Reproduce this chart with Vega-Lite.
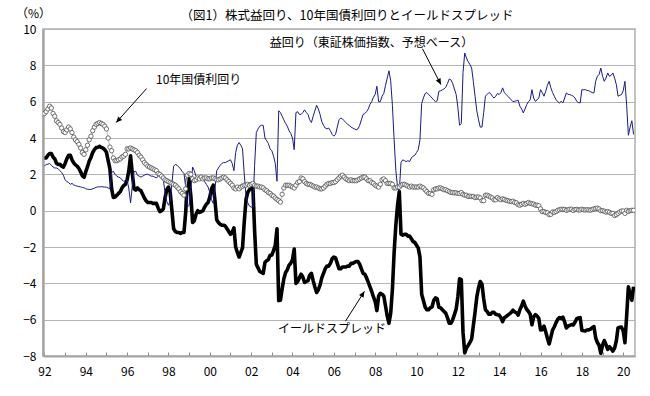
{
"$schema": "https://vega.github.io/schema/vega-lite/v6.json",
"width": 592, "height": 327,
"autosize": {"type": "none"},
"padding": {"left": 43, "top": 29, "right": 15, "bottom": 40},
"background": "white",
"title": {"text": "（図1）株式益回り、10年国債利回りとイールドスプレッド", "font": "Noto Sans CJK JP", "fontSize": 12.5, "fontWeight": "normal", "color": "black", "anchor": "middle", "offset": 0, "dx": 8, "dy": 15},
"config": {
  "view": {"stroke": "#b0b0b0", "strokeWidth": 1.5},
  "font": "Noto Sans CJK JP",
  "axis": {"labelFont": "Noto Sans CJK JP", "labelFontSize": 12, "labelColor": "black", "titleFont": "Noto Sans CJK JP", "titleFontWeight": "normal", "titleColor": "black"}
},
"resolve": {"axis": {"x": "independent", "y": "independent"}},
"datasets": {
"m": [
{"t":1992,"e":2.45,"j":5.35,"s":2.9},{"t":1992.083,"e":2.55,"j":5.45,"s":2.9},{"t":1992.167,"e":2.55,"j":5.6,"s":3.05},{"t":1992.25,"e":2.6,"j":5.75,"s":3.15},{"t":1992.333,"e":2.5,"j":5.65,"s":3.15},{"t":1992.417,"e":2.4,"j":5.35,"s":2.95},{"t":1992.5,"e":2.35,"j":5.2,"s":2.85},{"t":1992.583,"e":2.35,"j":4.95,"s":2.6},{"t":1992.667,"e":2.3,"j":4.85,"s":2.55},{"t":1992.75,"e":2.2,"j":4.75,"s":2.55},{"t":1992.833,"e":2.1,"j":4.55,"s":2.45},{"t":1992.917,"e":1.95,"j":4.35,"s":2.4},
{"t":1993,"e":1.7,"j":4.3,"s":2.6},{"t":1993.083,"e":1.6,"j":4.45,"s":2.85},{"t":1993.167,"e":1.55,"j":4.6,"s":3.05},{"t":1993.25,"e":1.45,"j":4.5,"s":3.05},{"t":1993.333,"e":1.5,"j":4.3,"s":2.8},{"t":1993.417,"e":1.42,"j":4.05,"s":2.63},{"t":1993.5,"e":1.38,"j":3.9,"s":2.52},{"t":1993.583,"e":1.35,"j":3.8,"s":2.45},{"t":1993.667,"e":1.33,"j":3.65,"s":2.32},{"t":1993.75,"e":1.31,"j":3.45,"s":2.14},{"t":1993.833,"e":1.28,"j":3.2,"s":1.92},{"t":1993.917,"e":1.26,"j":3.1,"s":1.84},
{"t":1994,"e":1.2,"j":3.35,"s":2.15},{"t":1994.083,"e":1.18,"j":3.6,"s":2.42},{"t":1994.167,"e":1.17,"j":3.9,"s":2.73},{"t":1994.25,"e":1.17,"j":4.1,"s":2.93},{"t":1994.333,"e":1.2,"j":4.4,"s":3.2},{"t":1994.417,"e":1.24,"j":4.6,"s":3.36},{"t":1994.5,"e":1.28,"j":4.75,"s":3.47},{"t":1994.583,"e":1.31,"j":4.8,"s":3.49},{"t":1994.667,"e":1.31,"j":4.85,"s":3.54},{"t":1994.75,"e":1.32,"j":4.8,"s":3.48},{"t":1994.833,"e":1.31,"j":4.75,"s":3.44},{"t":1994.917,"e":1.3,"j":4.65,"s":3.35},
{"t":1995,"e":1.29,"j":4.5,"s":3.21},{"t":1995.083,"e":1.25,"j":4.0,"s":2.75},{"t":1995.167,"e":1.2,"j":3.5,"s":2.3},{"t":1995.25,"e":2.1,"j":3.3,"s":1.2},{"t":1995.333,"e":2.17,"j":2.9,"s":0.73},{"t":1995.417,"e":2.0,"j":2.75,"s":0.75},{"t":1995.5,"e":1.9,"j":2.75,"s":0.85},{"t":1995.583,"e":1.85,"j":2.8,"s":0.95},{"t":1995.667,"e":1.81,"j":2.85,"s":1.04},{"t":1995.75,"e":1.7,"j":2.95,"s":1.25},{"t":1995.833,"e":1.62,"j":3.0,"s":1.38},{"t":1995.917,"e":1.65,"j":3.1,"s":1.45},
{"t":1996,"e":1.7,"j":3.4,"s":1.7},{"t":1996.083,"e":1.2,"j":3.4,"s":2.2},{"t":1996.167,"e":0.43,"j":3.45,"s":3.02},{"t":1996.25,"e":1.35,"j":3.4,"s":2.05},{"t":1996.333,"e":2.15,"j":3.35,"s":1.2},{"t":1996.417,"e":2.17,"j":3.3,"s":1.13},{"t":1996.5,"e":1.95,"j":3.2,"s":1.25},{"t":1996.583,"e":1.9,"j":3.05,"s":1.15},{"t":1996.667,"e":1.85,"j":2.95,"s":1.1},{"t":1996.75,"e":1.9,"j":2.8,"s":0.9},{"t":1996.833,"e":1.95,"j":2.65,"s":0.7},{"t":1996.917,"e":2.0,"j":2.55,"s":0.55},
{"t":1997,"e":2.0,"j":2.45,"s":0.45},{"t":1997.083,"e":1.95,"j":2.4,"s":0.45},{"t":1997.167,"e":1.9,"j":2.35,"s":0.45},{"t":1997.25,"e":1.9,"j":2.3,"s":0.4},{"t":1997.333,"e":1.85,"j":2.25,"s":0.4},{"t":1997.417,"e":1.8,"j":2.2,"s":0.4},{"t":1997.5,"e":1.9,"j":2.05,"s":0.15},{"t":1997.583,"e":2.05,"j":2.0,"s":-0.05},{"t":1997.667,"e":1.9,"j":1.9,"s":0.0},{"t":1997.75,"e":1.71,"j":1.8,"s":0.09},{"t":1997.833,"e":1.0,"j":1.7,"s":0.7},{"t":1997.917,"e":0.5,"j":1.65,"s":1.15},
{"t":1998,"e":0.3,"j":1.6,"s":1.3},{"t":1998.083,"e":0.55,"j":1.55,"s":1.0},{"t":1998.167,"e":1.5,"j":1.5,"s":0.0},{"t":1998.25,"e":2.45,"j":1.45,"s":-1.0},{"t":1998.333,"e":2.55,"j":1.4,"s":-1.15},{"t":1998.417,"e":2.5,"j":1.3,"s":-1.2},{"t":1998.5,"e":2.4,"j":1.2,"s":-1.2},{"t":1998.583,"e":2.3,"j":1.05,"s":-1.25},{"t":1998.667,"e":2.15,"j":0.95,"s":-1.2},{"t":1998.75,"e":2.05,"j":0.85,"s":-1.2},{"t":1998.833,"e":1.3,"j":1.2,"s":-0.1},{"t":1998.917,"e":0.2,"j":1.95,"s":1.75},
{"t":1999,"e":0.3,"j":2.05,"s":1.75},{"t":1999.083,"e":1.2,"j":2.0,"s":0.8},{"t":1999.167,"e":2.4,"j":1.75,"s":-0.65},{"t":1999.25,"e":2.2,"j":1.65,"s":-0.55},{"t":1999.333,"e":1.9,"j":1.7,"s":-0.2},{"t":1999.417,"e":1.8,"j":1.8,"s":0.0},{"t":1999.5,"e":1.85,"j":1.75,"s":-0.1},{"t":1999.583,"e":1.9,"j":1.85,"s":-0.05},{"t":1999.667,"e":1.75,"j":1.75,"s":0.0},{"t":1999.75,"e":1.6,"j":1.8,"s":0.2},{"t":1999.833,"e":1.45,"j":1.8,"s":0.35},{"t":1999.917,"e":1.3,"j":1.75,"s":0.45},
{"t":2000,"e":1.0,"j":1.75,"s":0.75},{"t":2000.083,"e":0.6,"j":1.8,"s":1.2},{"t":2000.167,"e":0.4,"j":1.8,"s":1.4},{"t":2000.25,"e":1.2,"j":1.75,"s":0.55},{"t":2000.333,"e":2.2,"j":1.7,"s":-0.5},{"t":2000.417,"e":2.35,"j":1.7,"s":-0.65},{"t":2000.5,"e":2.5,"j":1.75,"s":-0.75},{"t":2000.583,"e":2.6,"j":1.8,"s":-0.8},{"t":2000.667,"e":2.65,"j":1.85,"s":-0.8},{"t":2000.75,"e":2.65,"j":1.8,"s":-0.85},{"t":2000.833,"e":2.7,"j":1.7,"s":-1.0},{"t":2000.917,"e":2.75,"j":1.6,"s":-1.15},
{"t":2001,"e":2.8,"j":1.5,"s":-1.3},{"t":2001.083,"e":2.6,"j":1.4,"s":-1.2},{"t":2001.167,"e":2.2,"j":1.25,"s":-0.95},{"t":2001.25,"e":3.2,"j":1.2,"s":-2.0},{"t":2001.333,"e":3.6,"j":1.3,"s":-2.3},{"t":2001.417,"e":3.75,"j":1.2,"s":-2.55},{"t":2001.5,"e":3.6,"j":1.3,"s":-2.3},{"t":2001.583,"e":3.4,"j":1.35,"s":-2.05},{"t":2001.667,"e":2.0,"j":1.4,"s":-0.6},{"t":2001.75,"e":0.8,"j":1.4,"s":0.6},{"t":2001.833,"e":0.45,"j":1.45,"s":1.0},{"t":2001.917,"e":0.25,"j":1.4,"s":1.15},
{"t":2002,"e":0.2,"j":1.45,"s":1.25},{"t":2002.083,"e":0.16,"j":1.5,"s":1.34},{"t":2002.167,"e":2.5,"j":1.4,"s":-1.1},{"t":2002.25,"e":4.3,"j":1.35,"s":-2.95},{"t":2002.333,"e":4.5,"j":1.35,"s":-3.15},{"t":2002.417,"e":4.65,"j":1.3,"s":-3.35},{"t":2002.5,"e":4.7,"j":1.3,"s":-3.4},{"t":2002.583,"e":4.7,"j":1.25,"s":-3.45},{"t":2002.667,"e":4.0,"j":1.15,"s":-2.85},{"t":2002.75,"e":3.85,"j":1.1,"s":-2.75},{"t":2002.833,"e":3.7,"j":1.0,"s":-2.7},{"t":2002.917,"e":3.4,"j":0.95,"s":-2.45},
{"t":2003,"e":3.3,"j":0.85,"s":-2.45},{"t":2003.083,"e":3.0,"j":0.8,"s":-2.2},{"t":2003.167,"e":2.6,"j":0.7,"s":-1.9},{"t":2003.25,"e":1.62,"j":0.62,"s":-1.0},{"t":2003.333,"e":5.5,"j":0.55,"s":-4.95},{"t":2003.417,"e":5.4,"j":0.47,"s":-4.93},{"t":2003.5,"e":5.2,"j":0.9,"s":-4.3},{"t":2003.583,"e":5.0,"j":1.25,"s":-3.75},{"t":2003.667,"e":4.8,"j":1.4,"s":-3.4},{"t":2003.75,"e":4.65,"j":1.4,"s":-3.25},{"t":2003.833,"e":4.4,"j":1.4,"s":-3.0},{"t":2003.917,"e":4.25,"j":1.35,"s":-2.9},
{"t":2004,"e":4.0,"j":1.3,"s":-2.7},{"t":2004.083,"e":3.36,"j":1.25,"s":-2.11},{"t":2004.167,"e":5.4,"j":1.4,"s":-4.0},{"t":2004.25,"e":5.45,"j":1.55,"s":-3.9},{"t":2004.333,"e":5.3,"j":1.6,"s":-3.7},{"t":2004.417,"e":5.3,"j":1.8,"s":-3.5},{"t":2004.5,"e":5.4,"j":1.75,"s":-3.65},{"t":2004.583,"e":5.55,"j":1.6,"s":-3.95},{"t":2004.667,"e":5.4,"j":1.5,"s":-3.9},{"t":2004.75,"e":5.3,"j":1.45,"s":-3.85},{"t":2004.833,"e":5.0,"j":1.45,"s":-3.55},{"t":2004.917,"e":4.85,"j":1.4,"s":-3.45},
{"t":2005,"e":5.2,"j":1.35,"s":-3.85},{"t":2005.083,"e":5.5,"j":1.3,"s":-4.2},{"t":2005.167,"e":5.8,"j":1.3,"s":-4.5},{"t":2005.25,"e":5.6,"j":1.25,"s":-4.35},{"t":2005.333,"e":5.3,"j":1.2,"s":-4.1},{"t":2005.417,"e":4.9,"j":1.2,"s":-3.7},{"t":2005.5,"e":4.7,"j":1.25,"s":-3.45},{"t":2005.583,"e":4.55,"j":1.35,"s":-3.2},{"t":2005.667,"e":4.5,"j":1.45,"s":-3.05},{"t":2005.75,"e":4.55,"j":1.5,"s":-3.05},{"t":2005.833,"e":4.4,"j":1.5,"s":-2.9},{"t":2005.917,"e":4.2,"j":1.55,"s":-2.65},
{"t":2006,"e":4.1,"j":1.55,"s":-2.55},{"t":2006.083,"e":4.2,"j":1.6,"s":-2.6},{"t":2006.167,"e":4.6,"j":1.7,"s":-2.9},{"t":2006.25,"e":5.0,"j":1.8,"s":-3.2},{"t":2006.333,"e":5.1,"j":1.9,"s":-3.2},{"t":2006.417,"e":5.05,"j":1.95,"s":-3.1},{"t":2006.5,"e":4.95,"j":1.85,"s":-3.1},{"t":2006.583,"e":4.85,"j":1.75,"s":-3.1},{"t":2006.667,"e":4.75,"j":1.7,"s":-3.05},{"t":2006.75,"e":4.7,"j":1.65,"s":-3.05},{"t":2006.833,"e":4.6,"j":1.7,"s":-2.9},{"t":2006.917,"e":4.55,"j":1.65,"s":-2.9},
{"t":2007,"e":4.5,"j":1.65,"s":-2.85},{"t":2007.083,"e":4.45,"j":1.65,"s":-2.8},{"t":2007.167,"e":4.5,"j":1.7,"s":-2.8},{"t":2007.25,"e":4.7,"j":1.75,"s":-2.95},{"t":2007.333,"e":5.0,"j":1.8,"s":-3.2},{"t":2007.417,"e":5.3,"j":1.85,"s":-3.45},{"t":2007.5,"e":5.35,"j":1.85,"s":-3.5},{"t":2007.583,"e":5.45,"j":1.75,"s":-3.7},{"t":2007.667,"e":5.6,"j":1.65,"s":-3.95},{"t":2007.75,"e":5.85,"j":1.65,"s":-4.2},{"t":2007.833,"e":6.0,"j":1.55,"s":-4.45},{"t":2007.917,"e":6.25,"j":1.5,"s":-4.75},
{"t":2008,"e":6.4,"j":1.4,"s":-5.0},{"t":2008.083,"e":6.85,"j":1.35,"s":-5.5},{"t":2008.167,"e":6.0,"j":1.3,"s":-4.7},{"t":2008.25,"e":6.0,"j":1.45,"s":-4.55},{"t":2008.333,"e":6.3,"j":1.7,"s":-4.6},{"t":2008.417,"e":6.45,"j":1.75,"s":-4.7},{"t":2008.5,"e":6.9,"j":1.65,"s":-5.25},{"t":2008.583,"e":7.3,"j":1.5,"s":-5.8},{"t":2008.667,"e":7.7,"j":1.5,"s":-6.2},{"t":2008.75,"e":7.15,"j":1.5,"s":-5.65},{"t":2008.833,"e":5.8,"j":1.45,"s":-4.35},{"t":2008.917,"e":3.9,"j":1.25,"s":-2.3},
{"t":2009,"e":2.2,"j":1.25,"s":-0.8},{"t":2009.083,"e":1.3,"j":1.3,"s":0.3},{"t":2009.167,"e":1.07,"j":1.3,"s":1.05},{"t":2009.25,"e":2.65,"j":1.4,"s":-1.3},{"t":2009.333,"e":2.8,"j":1.45,"s":-1.35},{"t":2009.417,"e":2.75,"j":1.45,"s":-1.3},{"t":2009.5,"e":2.7,"j":1.4,"s":-1.3},{"t":2009.583,"e":2.75,"j":1.35,"s":-1.4},{"t":2009.667,"e":2.7,"j":1.3,"s":-1.4},{"t":2009.75,"e":2.9,"j":1.35,"s":-1.55},{"t":2009.833,"e":3.0,"j":1.3,"s":-1.7},{"t":2009.917,"e":3.05,"j":1.3,"s":-1.75},
{"t":2010,"e":3.2,"j":1.3,"s":-1.9},{"t":2010.083,"e":3.35,"j":1.3,"s":-2.05},{"t":2010.167,"e":3.9,"j":1.35,"s":-2.55},{"t":2010.25,"e":5.9,"j":1.3,"s":-4.6},{"t":2010.333,"e":6.2,"j":1.25,"s":-4.95},{"t":2010.417,"e":6.45,"j":1.15,"s":-5.3},{"t":2010.5,"e":6.5,"j":1.05,"s":-5.45},{"t":2010.583,"e":6.4,"j":0.95,"s":-5.45},{"t":2010.667,"e":6.3,"j":0.95,"s":-5.35},{"t":2010.75,"e":6.2,"j":0.9,"s":-5.3},{"t":2010.833,"e":6.1,"j":1.15,"s":-4.95},{"t":2010.917,"e":6.0,"j":1.2,"s":-4.8},
{"t":2011,"e":6.05,"j":1.2,"s":-4.85},{"t":2011.083,"e":6.57,"j":1.25,"s":-5.32},{"t":2011.167,"e":6.6,"j":1.25,"s":-5.35},{"t":2011.25,"e":6.65,"j":1.2,"s":-5.45},{"t":2011.333,"e":6.7,"j":1.15,"s":-5.55},{"t":2011.417,"e":6.8,"j":1.15,"s":-5.65},{"t":2011.5,"e":7.0,"j":1.1,"s":-5.9},{"t":2011.583,"e":7.25,"j":1.05,"s":-6.2},{"t":2011.667,"e":7.2,"j":1.0,"s":-6.2},{"t":2011.75,"e":7.0,"j":1.0,"s":-6.0},{"t":2011.833,"e":6.7,"j":0.98,"s":-5.72},{"t":2011.917,"e":6.4,"j":0.98,"s":-5.42},
{"t":2012,"e":5.7,"j":0.95,"s":-4.75},{"t":2012.083,"e":4.7,"j":0.95,"s":-3.75},{"t":2012.167,"e":4.8,"j":1.0,"s":-3.8},{"t":2012.25,"e":7.6,"j":0.9,"s":-6.7},{"t":2012.333,"e":8.68,"j":0.85,"s":-7.83},{"t":2012.417,"e":8.4,"j":0.85,"s":-7.55},{"t":2012.5,"e":8.2,"j":0.78,"s":-7.42},{"t":2012.583,"e":8.05,"j":0.8,"s":-7.25},{"t":2012.667,"e":7.85,"j":0.78,"s":-7.07},{"t":2012.75,"e":7.1,"j":0.78,"s":-6.32},{"t":2012.833,"e":6.3,"j":0.72,"s":-5.58},{"t":2012.917,"e":5.5,"j":0.75,"s":-4.75},
{"t":2013,"e":5.0,"j":0.75,"s":-4.25},{"t":2013.083,"e":4.6,"j":0.7,"s":-3.9},{"t":2013.167,"e":4.6,"j":0.55,"s":-4.05},{"t":2013.25,"e":5.4,"j":0.55,"s":-4.85},{"t":2013.333,"e":6.3,"j":0.85,"s":-5.45},{"t":2013.417,"e":6.4,"j":0.85,"s":-5.55},{"t":2013.5,"e":6.5,"j":0.8,"s":-5.7},{"t":2013.583,"e":6.45,"j":0.75,"s":-5.7},{"t":2013.667,"e":6.3,"j":0.7,"s":-5.6},{"t":2013.75,"e":6.2,"j":0.6,"s":-5.6},{"t":2013.833,"e":6.3,"j":0.6,"s":-5.7},{"t":2013.917,"e":6.45,"j":0.72,"s":-5.73},
{"t":2014,"e":6.4,"j":0.65,"s":-5.75},{"t":2014.083,"e":6.5,"j":0.6,"s":-5.9},{"t":2014.167,"e":6.76,"j":0.65,"s":-6.11},{"t":2014.25,"e":6.5,"j":0.62,"s":-5.88},{"t":2014.333,"e":6.4,"j":0.57,"s":-5.83},{"t":2014.417,"e":6.3,"j":0.55,"s":-5.75},{"t":2014.5,"e":6.2,"j":0.52,"s":-5.68},{"t":2014.583,"e":6.1,"j":0.5,"s":-5.6},{"t":2014.667,"e":6.0,"j":0.52,"s":-5.48},{"t":2014.75,"e":6.02,"j":0.45,"s":-5.57},{"t":2014.833,"e":6.05,"j":0.43,"s":-5.62},{"t":2014.917,"e":6.08,"j":0.33,"s":-5.75},
{"t":2015,"e":5.75,"j":0.3,"s":-5.45},{"t":2015.083,"e":5.6,"j":0.35,"s":-5.25},{"t":2015.167,"e":5.38,"j":0.4,"s":-4.98},{"t":2015.25,"e":5.6,"j":0.35,"s":-5.25},{"t":2015.333,"e":5.84,"j":0.4,"s":-5.44},{"t":2015.417,"e":6.0,"j":0.45,"s":-5.55},{"t":2015.5,"e":6.1,"j":0.4,"s":-5.7},{"t":2015.583,"e":6.66,"j":0.38,"s":-6.28},{"t":2015.667,"e":6.2,"j":0.36,"s":-5.84},{"t":2015.75,"e":6.02,"j":0.3,"s":-5.72},{"t":2015.833,"e":6.1,"j":0.3,"s":-5.8},{"t":2015.917,"e":6.2,"j":0.27,"s":-5.93},
{"t":2016,"e":6.66,"j":0.1,"s":-6.56},{"t":2016.083,"e":6.5,"j":-0.05,"s":-6.55},{"t":2016.167,"e":6.3,"j":-0.05,"s":-6.35},{"t":2016.25,"e":6.57,"j":-0.1,"s":-6.67},{"t":2016.333,"e":6.9,"j":-0.12,"s":-7.02},{"t":2016.417,"e":7.12,"j":-0.22,"s":-7.34},{"t":2016.5,"e":6.76,"j":-0.2,"s":-6.96},{"t":2016.583,"e":6.5,"j":-0.07,"s":-6.57},{"t":2016.667,"e":6.3,"j":-0.09,"s":-6.39},{"t":2016.75,"e":6.11,"j":-0.05,"s":-6.16},{"t":2016.833,"e":6.0,"j":0.02,"s":-5.98},{"t":2016.917,"e":5.93,"j":0.05,"s":-5.88},
{"t":2017,"e":6.02,"j":0.08,"s":-5.94},{"t":2017.083,"e":5.93,"j":0.07,"s":-5.86},{"t":2017.167,"e":6.2,"j":0.07,"s":-6.13},{"t":2017.25,"e":6.48,"j":0.02,"s":-6.46},{"t":2017.333,"e":6.4,"j":0.05,"s":-6.35},{"t":2017.417,"e":6.39,"j":0.08,"s":-6.31},{"t":2017.5,"e":6.35,"j":0.08,"s":-6.27},{"t":2017.583,"e":6.3,"j":0.01,"s":-6.29},{"t":2017.667,"e":6.2,"j":0.06,"s":-6.14},{"t":2017.75,"e":6.02,"j":0.07,"s":-5.95},{"t":2017.833,"e":5.95,"j":0.04,"s":-5.91},{"t":2017.917,"e":5.93,"j":0.04,"s":-5.89},
{"t":2018,"e":6.66,"j":0.08,"s":-6.58},{"t":2018.083,"e":6.66,"j":0.05,"s":-6.61},{"t":2018.167,"e":6.66,"j":0.04,"s":-6.62},{"t":2018.25,"e":6.62,"j":0.05,"s":-6.57},{"t":2018.333,"e":6.6,"j":0.04,"s":-6.56},{"t":2018.417,"e":6.55,"j":0.03,"s":-6.52},{"t":2018.5,"e":6.5,"j":0.06,"s":-6.44},{"t":2018.583,"e":6.48,"j":0.1,"s":-6.38},{"t":2018.667,"e":7.12,"j":0.12,"s":-7.0},{"t":2018.75,"e":7.4,"j":0.14,"s":-7.26},{"t":2018.833,"e":7.5,"j":0.09,"s":-7.41},{"t":2018.917,"e":7.85,"j":0.0,"s":-7.85},
{"t":2019,"e":7.4,"j":0.0,"s":-7.4},{"t":2019.083,"e":7.12,"j":-0.03,"s":-7.15},{"t":2019.167,"e":7.3,"j":-0.08,"s":-7.38},{"t":2019.25,"e":7.58,"j":-0.05,"s":-7.63},{"t":2019.333,"e":7.4,"j":-0.09,"s":-7.49},{"t":2019.417,"e":7.45,"j":-0.15,"s":-7.6},{"t":2019.5,"e":7.58,"j":-0.15,"s":-7.73},{"t":2019.583,"e":7.3,"j":-0.27,"s":-7.57},{"t":2019.667,"e":6.94,"j":-0.22,"s":-7.16},{"t":2019.75,"e":6.3,"j":-0.15,"s":-6.45},{"t":2019.833,"e":6.35,"j":-0.07,"s":-6.42},{"t":2019.917,"e":6.39,"j":-0.02,"s":-6.41},
{"t":2020,"e":6.6,"j":-0.02,"s":-6.62},{"t":2020.083,"e":7.12,"j":-0.15,"s":-7.27},{"t":2020.167,"e":5.8,"j":0.02,"s":-5.78},{"t":2020.25,"e":4.15,"j":-0.04,"s":-4.19},{"t":2020.333,"e":4.6,"j":0.0,"s":-4.6},{"t":2020.417,"e":4.95,"j":0.02,"s":-4.93},{"t":2020.5,"e":4.2,"j":0.02,"s":-4.18}
],
"txt": [
{"t":2007.82,"v":9.25,"label":"益回り（東証株価指数、予想ベース）"},
{"t":1999.46,"v":7.21,"label":"10年国債利回り"},
{"t":2005.91,"v":-6.53,"label":"イールドスプレッド"}
],
"arr": [
{"id":1,"t":2010.29,"v":8.91,"t2":2011.18,"v2":6.94},
{"id":2,"t":1996.94,"v":6.72,"t2":1995.47,"v2":4.85},
{"id":3,"t":2006.56,"v":-6.09,"t2":2007.48,"v2":-4.44}
]
},
"data": {"name": "m"},
"layer": [
{"mark": {"type": "line", "color": "black", "strokeWidth": 3.6, "strokeJoin": "round", "clip": true},
 "encoding": {
  "x": {"field": "t", "type": "quantitative", "scale": {"domain": [1991.93, 2020.57], "nice": false, "zero": false},
        "axis": {"title": null, "orient": "bottom", "values": [1992,1993,1994,1995,1996,1997,1998,1999,2000,2001,2002,2003,2004,2005,2006,2007,2008,2009,2010,2011,2012,2013,2014,2015,2016,2017,2018,2019,2020],
                 "format": "d", "labelExpr": "datum.value % 2 == 0 ? slice(datum.label, 2) : ''", "labelOverlap": false, "labelFlush": false,
                 "tickSize": -4, "tickColor": "#8c8c8c", "labelPadding": 14, "grid": false, "domainColor": "#a6a6a6", "domainWidth": 2}},
  "y": {"field": "s", "type": "quantitative", "scale": {"domain": [-8, 10], "nice": false, "zero": false},
        "axis": {"title": "（%）", "orient": "left", "titleAngle": 0, "titleX": -10, "titleY": -16, "titleAlign": "center", "titleBaseline": "middle", "titleFontSize": 12,
                 "values": [-8,-6,-4,-2,0,2,4,6,8,10], "ticks": false, "labelPadding": 7, "grid": true, "gridColor": "#b4b4b4", "gridWidth": 1, "domainColor": "#a6a6a6", "domainWidth": 2.5}}
 }},
{"mark": {"type": "line", "color": "#1a1a8c", "strokeWidth": 1, "clip": true},
 "encoding": {
  "x": {"field": "t", "type": "quantitative", "scale": {"domain": [1991.93, 2020.57], "nice": false, "zero": false}, "axis": null},
  "y": {"field": "e", "type": "quantitative", "scale": {"domain": [-8, 10], "nice": false, "zero": false}, "axis": null}
 }},
{"mark": {"type": "line", "color": "#c4c4c4", "strokeWidth": 1.3, "clip": true},
 "encoding": {
  "x": {"field": "t", "type": "quantitative", "scale": {"domain": [1991.93, 2020.57], "nice": false, "zero": false}, "axis": null},
  "y": {"field": "j", "type": "quantitative", "scale": {"domain": [-8, 10], "nice": false, "zero": false}, "axis": null}
 }},
{"mark": {"type": "point", "shape": "circle", "filled": true, "fill": "white", "stroke": "#3a3a3a", "strokeWidth": 0.7, "size": 19, "opacity": 1, "clip": true},
 "encoding": {
  "x": {"field": "t", "type": "quantitative", "scale": {"domain": [1991.93, 2020.57], "nice": false, "zero": false}, "axis": null},
  "y": {"field": "j", "type": "quantitative", "scale": {"domain": [-8, 10], "nice": false, "zero": false}, "axis": null}
 }},
{"data": {"name": "txt"},
 "mark": {"type": "text", "font": "Noto Sans CJK JP", "fontSize": 12, "color": "black", "align": "center", "baseline": "middle"},
 "encoding": {
  "x": {"field": "t", "type": "quantitative", "scale": {"domain": [1991.93, 2020.57], "nice": false, "zero": false}, "axis": null},
  "y": {"field": "v", "type": "quantitative", "scale": {"domain": [-8, 10], "nice": false, "zero": false}, "axis": null},
  "text": {"field": "label"}
 }},
{"data": {"name": "arr"},
 "mark": {"type": "rule", "color": "black", "strokeWidth": 1},
 "encoding": {
  "x": {"field": "t", "type": "quantitative", "scale": {"domain": [1991.93, 2020.57], "nice": false, "zero": false}, "axis": null},
  "y": {"field": "v", "type": "quantitative", "scale": {"domain": [-8, 10], "nice": false, "zero": false}, "axis": null},
  "x2": {"field": "t2"},
  "y2": {"field": "v2"}
 }},
{"data": {"name": "arr"}, "transform": [{"filter": "datum.id == 1"}],
 "mark": {"type": "point", "shape": "M0,0L-0.45,1L0.45,1Z", "filled": true, "color": "black", "opacity": 1, "size": 140, "angle": 153},
 "encoding": {
  "x": {"field": "t2", "type": "quantitative", "scale": {"domain": [1991.93, 2020.57], "nice": false, "zero": false}, "axis": null},
  "y": {"field": "v2", "type": "quantitative", "scale": {"domain": [-8, 10], "nice": false, "zero": false}, "axis": null}
 }},
{"data": {"name": "arr"}, "transform": [{"filter": "datum.id == 2"}],
 "mark": {"type": "point", "shape": "M0,0L-0.45,1L0.45,1Z", "filled": true, "color": "black", "opacity": 1, "size": 140, "angle": 222},
 "encoding": {
  "x": {"field": "t2", "type": "quantitative", "scale": {"domain": [1991.93, 2020.57], "nice": false, "zero": false}, "axis": null},
  "y": {"field": "v2", "type": "quantitative", "scale": {"domain": [-8, 10], "nice": false, "zero": false}, "axis": null}
 }},
{"data": {"name": "arr"}, "transform": [{"filter": "datum.id == 3"}],
 "mark": {"type": "point", "shape": "M0,0L-0.45,1L0.45,1Z", "filled": true, "color": "black", "opacity": 1, "size": 140, "angle": 32},
 "encoding": {
  "x": {"field": "t2", "type": "quantitative", "scale": {"domain": [1991.93, 2020.57], "nice": false, "zero": false}, "axis": null},
  "y": {"field": "v2", "type": "quantitative", "scale": {"domain": [-8, 10], "nice": false, "zero": false}, "axis": null}
 }}
]
}
